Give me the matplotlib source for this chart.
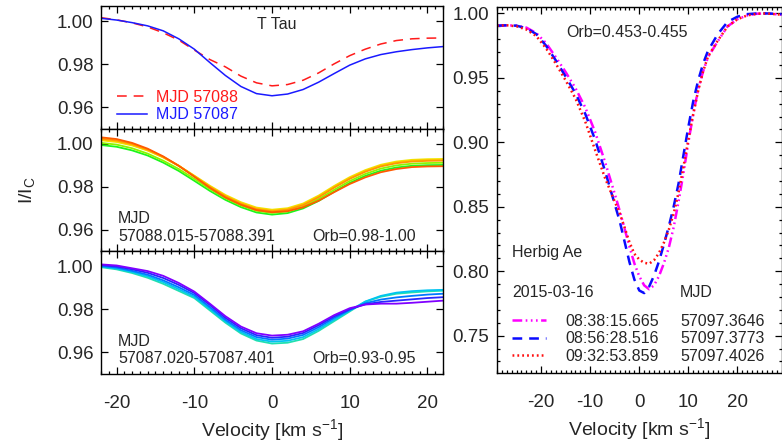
import matplotlib
matplotlib.use('Agg')
import matplotlib.pyplot as plt
from matplotlib.ticker import MultipleLocator, FormatStrFormatter

plt.rcParams['font.family'] = ['Liberation Sans', 'DejaVu Sans']
plt.rcParams['mathtext.fontset'] = 'custom'
plt.rcParams['mathtext.rm'] = 'Liberation Sans'
plt.rcParams['mathtext.it'] = 'Liberation Sans:italic'
plt.rcParams['axes.unicode_minus'] = False
plt.rcParams['lines.scale_dashes'] = False

TXT = '#262626'

# ---- data: left panels (T Tau), velocity grid in km/s
vel_l = [-22, -20, -18, -16, -14, -12, -10, -8, -6, -4, -2, 0,
         2, 4, 6, 8, 10, 12, 14, 16, 18, 20, 22]

# top panel: nightly means
mjd57088 = [1.0016, 1.0006, 0.9992, 0.9973, 0.9946, 0.9912, 0.9866, 0.9822, 0.9788, 0.9745, 0.9714, 0.9700,
            0.9706, 0.9726, 0.9760, 0.9802, 0.9840, 0.9870, 0.9894, 0.9910, 0.9918, 0.9921, 0.9922]
mjd57087 = [1.0013, 1.0005, 0.9993, 0.9978, 0.9955, 0.9918, 0.9870, 0.9808, 0.9748, 0.9697, 0.9664, 0.9654,
            0.9662, 0.9683, 0.9717, 0.9757, 0.9796, 0.9825, 0.9845, 0.9858, 0.9868, 0.9876, 0.9882]

# middle panel: individual profiles of MJD 57088
night88 = [
    [0.9995, 0.9987, 0.9970, 0.9946, 0.9913, 0.9874, 0.9828, 0.9781, 0.9739, 0.9705, 0.9680, 0.9670,
     0.9677, 0.9699, 0.9734, 0.9777, 0.9818, 0.9851, 0.9875, 0.9890, 0.9898, 0.9901, 0.9902],
    [1.0005, 0.9997, 0.9980, 0.9955, 0.9922, 0.9883, 0.9837, 0.9790, 0.9747, 0.9713, 0.9688, 0.9678,
     0.9685, 0.9707, 0.9743, 0.9786, 0.9827, 0.9860, 0.9885, 0.9900, 0.9908, 0.9911, 0.9912],
    [1.0017, 1.0009, 0.9993, 0.9969, 0.9937, 0.9898, 0.9852, 0.9805, 0.9762, 0.9728, 0.9703, 0.9693,
     0.9700, 0.9722, 0.9759, 0.9804, 0.9845, 0.9878, 0.9903, 0.9918, 0.9926, 0.9929, 0.9930],
    [1.0021, 1.0013, 0.9996, 0.9971, 0.9938, 0.9898, 0.9850, 0.9802, 0.9758, 0.9724, 0.9699, 0.9689,
     0.9696, 0.9718, 0.9755, 0.9800, 0.9841, 0.9874, 0.9899, 0.9914, 0.9922, 0.9925, 0.9926],
    [1.0025, 1.0017, 1.0000, 0.9974, 0.9940, 0.9898, 0.9849, 0.9799, 0.9755, 0.9720, 0.9695, 0.9685,
     0.9692, 0.9714, 0.9751, 0.9796, 0.9837, 0.9870, 0.9895, 0.9910, 0.9918, 0.9921, 0.9922],
    [1.0031, 1.0023, 1.0005, 0.9978, 0.9942, 0.9898, 0.9847, 0.9795, 0.9750, 0.9716, 0.9691, 0.9681,
     0.9686, 0.9704, 0.9735, 0.9775, 0.9813, 0.9844, 0.9868, 0.9883, 0.9892, 0.9895, 0.9896],
]
colors88 = ['#1cf51c', '#8cf500', '#f0e800', '#ffc400', '#ff9800', '#ff5a00']

# bottom panel: individual profiles of MJD 57087
night87 = [
    [0.9995, 0.9985, 0.9968, 0.9946, 0.9918, 0.9885, 0.9852, 0.9795, 0.9738, 0.9688, 0.9655, 0.9641,
     0.9645, 0.9662, 0.9700, 0.9745, 0.9790, 0.9835, 0.9858, 0.9872, 0.9878, 0.9883, 0.9886],
    [0.9998, 0.9989, 0.9973, 0.9953, 0.9926, 0.9893, 0.9858, 0.9802, 0.9744, 0.9695, 0.9662, 0.9650,
     0.9654, 0.9671, 0.9708, 0.9752, 0.9794, 0.9836, 0.9862, 0.9877, 0.9884, 0.9888, 0.9890],
    [1.0001, 0.9993, 0.9978, 0.9960, 0.9934, 0.9902, 0.9866, 0.9810, 0.9751, 0.9703, 0.9671, 0.9659,
     0.9664, 0.9681, 0.9717, 0.9760, 0.9797, 0.9828, 0.9845, 0.9855, 0.9862, 0.9868, 0.9872],
    [1.0005, 0.9998, 0.9985, 0.9969, 0.9945, 0.9913, 0.9875, 0.9820, 0.9760, 0.9712, 0.9680, 0.9668,
     0.9673, 0.9690, 0.9726, 0.9767, 0.9800, 0.9823, 0.9834, 0.9840, 0.9846, 0.9852, 0.9856],
    [1.0008, 1.0003, 0.9990, 0.9977, 0.9955, 0.9922, 0.9882, 0.9826, 0.9768, 0.9720, 0.9689, 0.9678,
     0.9682, 0.9698, 0.9733, 0.9773, 0.9805, 0.9822, 0.9826, 0.9826, 0.9830, 0.9835, 0.9840],
]
colors87 = ['#20e0b0', '#00c4f0', '#0078ff', '#2828ff', '#8000ff']

# ---- data: right panel (Herbig Ae, 2015-03-16)
vel_r = [-29, -27, -25, -23, -21, -19, -17, -15, -13, -11, -9, -7, -5, -4, -3, -2, -1, 0,
         1, 2, 3, 4, 5, 6, 7, 8, 9, 10, 11, 12, 13, 14, 16, 18, 20, 22, 24, 26, 29]
prof_0838 = [0.9905, 0.9908, 0.9905, 0.9890, 0.9848, 0.9770, 0.9660, 0.9545, 0.9420, 0.9270, 0.9080, 0.8850,
             0.8600, 0.8470, 0.8330, 0.8190, 0.8060, 0.7960, 0.7890, 0.7860, 0.7890, 0.7960, 0.8060, 0.8180,
             0.8340, 0.8540, 0.8760, 0.9000, 0.9220, 0.9410, 0.9550, 0.9660, 0.9785, 0.9900, 0.9955, 0.9985,
             0.9998, 1.0000, 0.9990]
prof_0856 = [0.9905, 0.9908, 0.9905, 0.9885, 0.9840, 0.9750, 0.9635, 0.9510, 0.9380, 0.9220, 0.9020, 0.8780,
             0.8520, 0.8390, 0.8230, 0.8070, 0.7935, 0.7850, 0.7830, 0.7880, 0.7965, 0.8075, 0.8205, 0.8345,
             0.8500, 0.8680, 0.8900, 0.9120, 0.9320, 0.9480, 0.9610, 0.9710, 0.9840, 0.9935, 0.9975, 0.9995,
             1.0000, 1.0000, 0.9995]
prof_0932 = [0.9905, 0.9908, 0.9900, 0.9875, 0.9825, 0.9730, 0.9610, 0.9480, 0.9340, 0.9160, 0.8940, 0.8725,
             0.8540, 0.8450, 0.8340, 0.8225, 0.8135, 0.8090, 0.8065, 0.8058, 0.8085, 0.8140, 0.8220, 0.8320,
             0.8445, 0.8610, 0.8810, 0.9020, 0.9220, 0.9400, 0.9550, 0.9665, 0.9790, 0.9900, 0.9955, 0.9985,
             0.9998, 1.0000, 0.9990]
times = ['08:38:15.665', '08:56:28.516', '09:32:53.859']
mjds = ['57097.3646', '57097.3773', '57097.4026']

fig = plt.figure(figsize=(7.82, 4.46), dpi=100)
ax_top = fig.add_axes([0.1292, 0.7108, 0.4373, 0.2757])
ax_mid = fig.add_axes([0.1292, 0.4372, 0.4373, 0.2736])
ax_bot = fig.add_axes([0.1292, 0.1614, 0.4373, 0.2758])
ax_r = fig.add_axes([0.6355, 0.1637, 0.3640, 0.8206])


def style(ax, ymaj, ymin):
    ax.xaxis.set_major_locator(MultipleLocator(10))
    ax.xaxis.set_minor_locator(MultipleLocator(1))
    ax.yaxis.set_major_locator(MultipleLocator(ymaj))
    if ymin:
        ax.yaxis.set_minor_locator(MultipleLocator(ymin))
    else:
        ax.yaxis.set_minor_locator(plt.NullLocator())
    ax.yaxis.set_major_formatter(FormatStrFormatter('%.2f'))
    ax.tick_params(which='both', direction='in', top=True, right=True,
                   color='black', labelcolor=TXT, labelsize=13.5, width=0.9)
    ax.tick_params(which='major', length=5)
    ax.tick_params(which='minor', length=2.4)
    ax.tick_params(axis='x', pad=15)
    ax.tick_params(axis='y', pad=5.5)
    for s in ax.spines.values():
        s.set_linewidth(1.0)


for ax in (ax_top, ax_mid, ax_bot):
    ax.set_xlim(-22, 22)
    ax.set_ylim(0.950, 1.007)
    style(ax, 0.02, None)
ax_top.tick_params(labelbottom=False)
ax_mid.tick_params(labelbottom=False)

# top panel
l88, = ax_top.plot(vel_l, mjd57088, color='#ff1a1a', lw=1.1, ls=(0, (7, 5)))
l87, = ax_top.plot(vel_l, mjd57087, color='#1a1aff', lw=1.1)
ax_top.text(0.515, 0.846, 'T Tau', transform=ax_top.transAxes, ha='center', va='center',
            fontsize=11.5, color=TXT)
ax_top.legend([l88, l87], ['MJD 57088', 'MJD 57087'], loc='lower left',
              bbox_to_anchor=(0.047, 0.055), frameon=False, fontsize=11.5,
              handlelength=1.9, handletextpad=0.55, labelspacing=0.15,
              borderpad=0, borderaxespad=0, labelcolor='linecolor')

# middle panel
for vals, c in zip(night88, colors88):
    ax_mid.plot(vel_l, vals, color=c, lw=1.3)
ax_mid.text(0.05, 0.268, 'MJD', transform=ax_mid.transAxes, va='center', fontsize=11.5, color=TXT)
ax_mid.text(0.05, 0.117, '57088.015-57088.391', transform=ax_mid.transAxes, va='center',
            fontsize=11.5, color=TXT)
ax_mid.text(0.617, 0.117, 'Orb=0.98-1.00', transform=ax_mid.transAxes, va='center',
            fontsize=11.5, color=TXT)

# bottom panel
for vals, c in zip(night87, colors87):
    ax_bot.plot(vel_l, vals, color=c, lw=1.3)
ax_bot.text(0.05, 0.268, 'MJD', transform=ax_bot.transAxes, va='center', fontsize=11.5, color=TXT)
ax_bot.text(0.05, 0.13, '57087.020-57087.401', transform=ax_bot.transAxes, va='center',
            fontsize=11.5, color=TXT)
ax_bot.text(0.617, 0.13, 'Orb=0.93-0.95', transform=ax_bot.transAxes, va='center',
            fontsize=11.5, color=TXT)
ax_bot.set_xlabel('Velocity [km s$^{-1}$]', fontsize=14, color=TXT, labelpad=4)

fig.text(0.034, 0.574, 'I/I$_{\\rm C}$', rotation=90, ha='center', va='center',
         fontsize=14, color=TXT)

# right panel
ax_r.set_xlim(-29, 29)
ax_r.set_ylim(0.721, 1.005)
style(ax_r, 0.05, 0.01)
h1, = ax_r.plot(vel_r, prof_0838, color='#ff00ff', lw=1.8,
                ls=(0, (7, 2.5, 1.2, 2.5, 1.2, 2.5, 1.2, 2.5)))
h2, = ax_r.plot(vel_r, prof_0856, color='#0a0aff', lw=1.8, ls=(0, (7, 5)))
h3, = ax_r.plot(vel_r, prof_0932, color='#ff1010', lw=1.8, ls=(0, (1.3, 2.2)))
ax_r.set_xlabel('Velocity [km s$^{-1}$]', fontsize=14, color=TXT, labelpad=4)

ax_r.text(0.245, 0.929, 'Orb=0.453-0.455', transform=ax_r.transAxes, va='center',
          fontsize=11.5, color=TXT)
ax_r.text(0.054, 0.328, 'Herbig Ae', transform=ax_r.transAxes, va='center',
          fontsize=11.5, color=TXT)
ax_r.text(0.054, 0.221, '2015-03-16', transform=ax_r.transAxes, va='center',
          fontsize=11.5, color=TXT)
ax_r.text(0.643, 0.221, 'MJD', transform=ax_r.transAxes, va='center',
          fontsize=11.5, color=TXT)
leg_t = ax_r.legend([h1, h2, h3], times, loc='lower left', bbox_to_anchor=(0.054, 0.025),
                    frameon=False, fontsize=11.5, handlelength=2.1, handletextpad=1.2,
                    labelspacing=0.15, borderpad=0, borderaxespad=0, labelcolor=TXT)
ax_r.add_artist(leg_t)
blank = [plt.Line2D([], [], lw=0) for _ in mjds]
ax_r.legend(blank, mjds, loc='lower left', bbox_to_anchor=(0.643, 0.025),
            frameon=False, fontsize=11.5, handlelength=0, handletextpad=0,
            labelspacing=0.15, borderpad=0, borderaxespad=0, labelcolor=TXT)

fig.savefig('out.png', dpi=100)
